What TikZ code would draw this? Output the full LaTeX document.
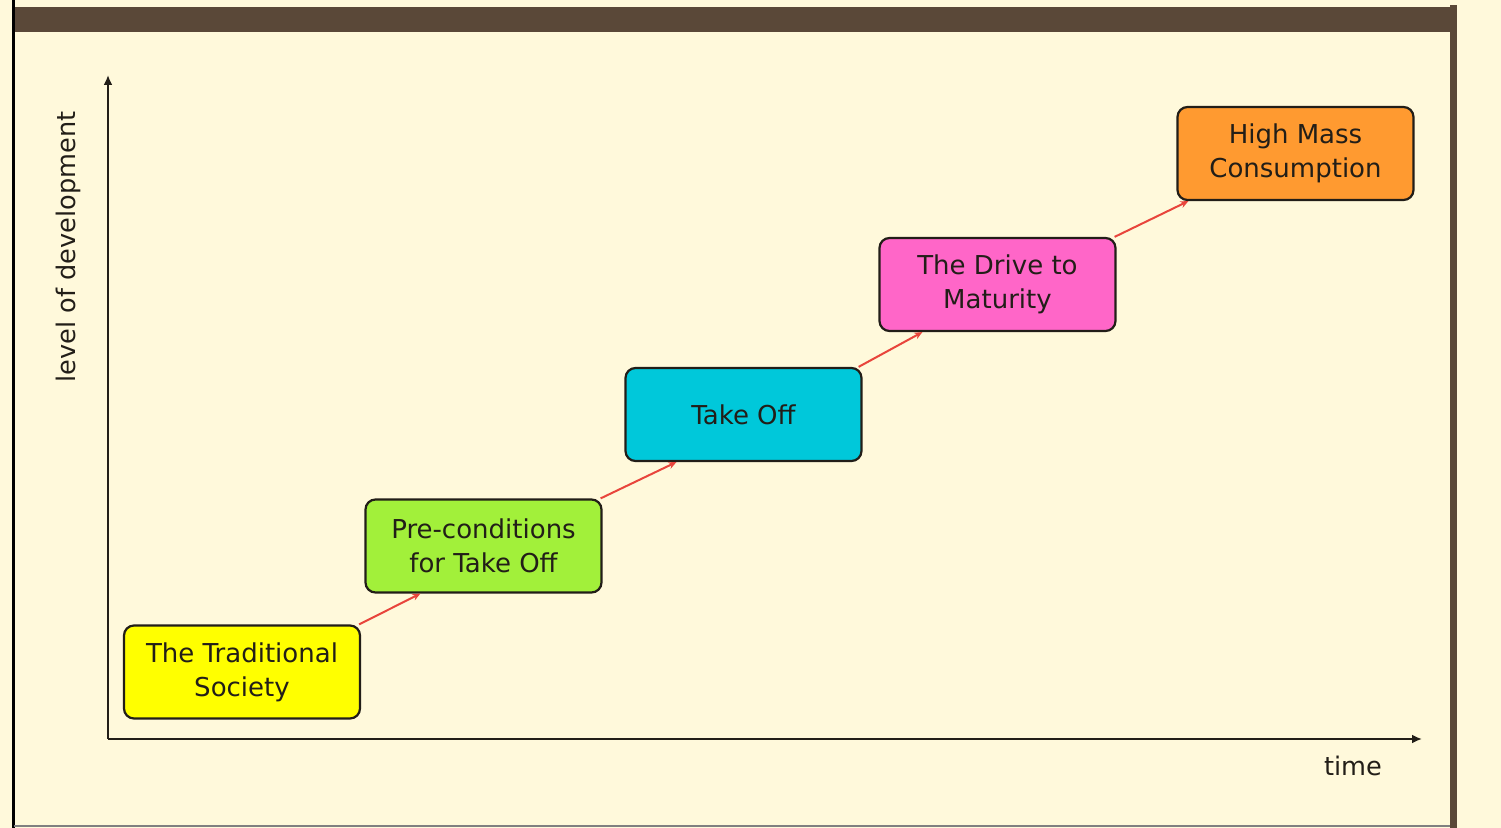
\documentclass[tikz,border=0pt]{standalone}
\usepackage{fontspec}
\setmainfont{DejaVu Sans}
\usetikzlibrary{arrows.meta}
\definecolor{cream}{HTML}{FFF9DB}
\definecolor{barbrown}{HTML}{5A4838}
\definecolor{inkdark}{HTML}{221E18}
\definecolor{stageyellow}{HTML}{FFFF00}
\definecolor{stagegreen}{HTML}{A2F03A}
\definecolor{stagecyan}{HTML}{00C8DA}
\definecolor{stagepink}{HTML}{FF66C8}
\definecolor{stageorange}{HTML}{FF9A30}
\definecolor{steparrow}{HTML}{E8453C}
\begin{document}
\begin{tikzpicture}[x = .5pt, y = -.5pt,
		stage/.style = {draw = inkdark, line width = 1.1pt, rounded corners = 5pt, minimum width = 118pt, minimum height = 46.5pt, inner sep = 0pt, align = center, text = inkdark, font = \fontsize{13}{17}\selectfont},
		rise/.style = {draw = steparrow, line width = 1pt, -{Stealth[length = 4pt, width = 3.5pt]}},
		axis/.style = {draw = inkdark, line width = 1.4pt, -{Latex[length = 5pt, width = 4.5pt]}}]
	\useasboundingbox (0,0) rectangle (1501,828);
	\fill[cream] (0,0) rectangle (1501,828); %page
	\fill[barbrown] (14,7) rectangle (1457,32); %top bar
	\fill[barbrown] (1450,5) rectangle (1457,828); %right border
	\draw[black, line width = 1.5pt] (13,0) -- (13,828); %left border
	\draw[gray, line width = 1pt] (14,826) -- (1450,826);
	\coordinate (origin) at (108,739);
	\coordinate (ytip) at (108,75);
	\coordinate (xtip) at (1422,739);
	\draw[axis] (origin) -- (ytip); %y-axis
	\draw[axis] (origin) -- (xtip); %x-axis
	\node[rotate = 90, text = inkdark, font = \fontsize{12.8}{15}\selectfont] (ylabel) at (68,247) {level of development};
	\node[text = inkdark, font = \fontsize{12.8}{15}\selectfont] (xlabel) at (1353,766) {time};
	\node[stage, fill = stageyellow] (trad) at (242,672) {The Traditional\\Society};
	\node[stage, fill = stagegreen] (pre) at (483.5,546) {Pre-conditions\\for Take Off};
	\node[stage, fill = stagecyan] (take) at (743.5,414.5) {Take Off};
	\node[stage, fill = stagepink] (drive) at (997.5,284.5) {The Drive to\\Maturity};
	\node[stage, fill = stageorange] (mass) at (1295.5,153.5) {High Mass\\Consumption};
	\draw[rise] ([xshift = -1pt]trad.north east) -- ([xshift = 28pt]pre.south west);
	\draw[rise] ([xshift = -1pt]pre.north east) -- ([xshift = 26pt]take.south west);
	\draw[rise] ([xshift = -2pt]take.north east) -- ([xshift = 22pt]drive.south west);
	\draw[rise] ([xshift = -1pt]drive.north east) -- ([xshift = 6pt]mass.south west);
\end{tikzpicture}
\end{document}
